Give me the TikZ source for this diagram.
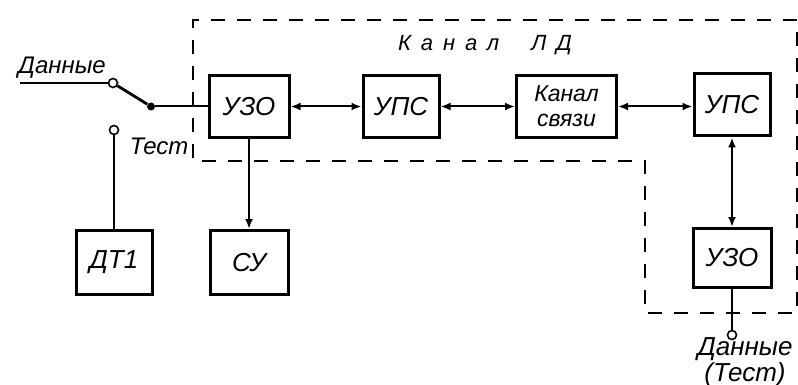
\documentclass[tikz,border=0pt]{standalone}
\usepackage{fontspec}
\setmainfont{Liberation Sans}
\usepackage{tikz}
\usetikzlibrary{arrows.meta}

\begin{document}
\begin{tikzpicture}[x=0.5pt,y=0.5pt,
        blok/.style={draw=black,line width=1.5pt,inner sep=0pt,minimum height=31pt,
            font=\fontsize{13}{15}\selectfont\itshape},
        svyaz/.style={draw=black,line width=1pt},
        dvustor/.style={svyaz,{Latex[length=5pt,width=4pt]}-{Latex[length=5pt,width=4pt]}},
        kontakt/.style={circle,draw=black,line width=0.8pt,fill=white,inner sep=0pt,minimum size=4.5pt},
        nadpis/.style={inner sep=0pt,font=\fontsize{11}{12}\selectfont\itshape}]
        \useasboundingbox (0,0) rectangle (798,-385);
        \draw [black,line width=0.9pt,dash pattern=on 7pt off 6pt] (797,-20) -- (193,-20) -- (193,-161)
            -- (645,-161) -- (645,-313) -- (797,-313) -- cycle;
        \node [nadpis,font=\fontsize{11}{12}\selectfont\itshape\addfontfeature{LetterSpace=45}] (kld) at (485,-45) {Канал\ \ ЛД};
        \node [blok,minimum width=40pt] (uzo) at (249,-106.5) {УЗО};
        \node [blok,minimum width=38pt] (ups) at (401,-106.5) {УПС};
        \node [blok,minimum width=50pt,align=center,font=\fontsize{11.5}{12.5}\selectfont\itshape] (kan) at (566.5,-106.5) {Канал\\связи};
        \node [blok,minimum width=38pt] (upsb) at (732,-105) {УПС};
        \node [blok,minimum width=39pt,minimum height=29.5pt] (uzob) at (732,-258) {УЗО};
        \node [blok,minimum width=38pt,minimum height=32pt] (dt) at (114,-262.5) {ДТ1};
        \node [blok,minimum width=39pt,minimum height=32pt] (su) at (249,-262.5) {СУ};
        \node [nadpis,font=\fontsize{12}{13}\selectfont\itshape] (dan) at (62,-68) {Данные};
        \node [nadpis,font=\fontsize{12}{13}\selectfont\itshape] (test) at (159,-146) {Тест};
        \coordinate (vh) at (20,-83);
        \node [kontakt] (kd) at (113,-83) {};
        \node [kontakt] (kt) at (114,-130) {};
        \node [circle,fill=black,inner sep=0pt,minimum size=4pt] (nozh) at (151,-106.5) {};
        \draw [svyaz] (vh) -- (kd);
        \draw [svyaz,line width=1.4pt] (kd) -- (nozh);
        \draw [svyaz] (nozh) -- (uzo);
        \draw [svyaz] (kt) -- (dt);
        \draw [dvustor] (uzo) -- (ups);
        \draw [dvustor] (ups) -- (kan);
        \draw [dvustor] (kan.east) -- (kan.east -| upsb.west);
        \draw [dvustor] (upsb) -- (uzob);
        \draw [svyaz,-{Latex[length=5pt,width=4pt]}] (uzo) -- (su);
        \node [kontakt] (kb) at (732,-335) {};
        \draw [svyaz] (uzob) -- (kb);
        \node [nadpis,align=center,font=\fontsize{13}{9}\selectfont\itshape] (danb) at (745,-362) {Данные\\(Тест)};
    \end{tikzpicture}
\end{document}
